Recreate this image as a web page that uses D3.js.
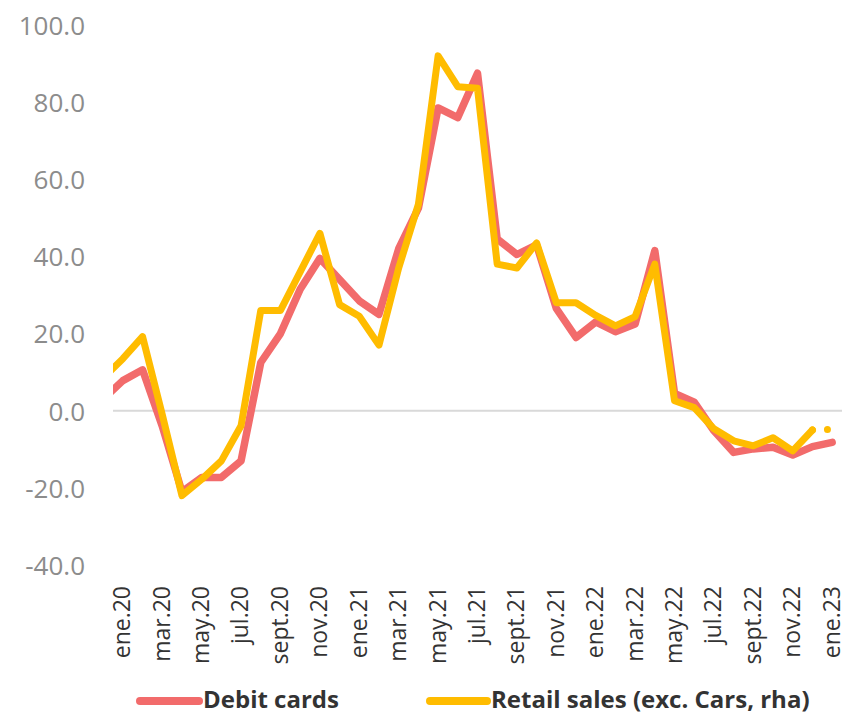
<!DOCTYPE html>
<html>
<head>
<meta charset="utf-8">
<script src="https://cdn.jsdelivr.net/npm/d3@7"></script>
<style>
  html, body { margin: 0; padding: 0; background: #fff; }
  svg { display: block; }
</style>
</head>
<body>
<svg id="chart" width="846" height="714"></svg>
<script>
// Months (first one, dic.19, lies just outside the plot and is clipped)
const months = ["dic.19","ene.20","feb.20","mar.20","abr.20","may.20","jun.20","jul.20","ago.20","sept.20","oct.20","nov.20","dic.20",
  "ene.21","feb.21","mar.21","abr.21","may.21","jun.21","jul.21","ago.21","sept.21","oct.21","nov.21","dic.21",
  "ene.22","feb.22","mar.22","abr.22","may.22","jun.22","jul.22","ago.22","sept.22","oct.22","nov.22","dic.22","ene.23"];

const debitCards = [3, 7.8, 10.6, -4, -21, -17.3, -17.3, -13, 12.5, 20, 31.5, 39.5, 34,
  28.5, 25, 42, 52.5, 78.5, 76, 87.5, 44.5, 40.5, 43, 26.5, 19,
  23, 20.5, 22.5, 41.5, 4.5, 2.2, -5.2, -10.8, -9.9, -9.5, -11.5, -9.3, -8.2];

const retailSales = [8.5, 13.5, 19.2, -1, -22, -17.8, -13, -3.9, 26, 26, 36, 46, 27.5,
  24.5, 17, 37, 53.5, 92, 84, 83.6, 38, 37, 43.5, 28, 28,
  24.7, 22, 24.4, 38, 2.6, 0.8, -4.7, -7.8, -9.1, -7, -10.4, -5, -4.8];

const yTicks = [-40, -20, 0, 20, 40, 60, 80, 100];
const xTickLabels = ["ene.20","mar.20","may.20","jul.20","sept.20","nov.20","ene.21","mar.21","may.21","jul.21","sept.21","nov.21",
  "ene.22","mar.22","may.22","jul.22","sept.22","nov.22","ene.23"];

const seriesNames = ["Debit cards", "Retail sales (exc. Cars, rha)"];
const colors = ["#F26B6B", "#FFBC00"];

const svg = d3.select("#chart");
const plot = { left: 113, right: 842, top: 25, bottom: 565 };

// index 0 = dic.19; ene.20 is index 1
const x = d3.scaleLinear().domain([0.5, months.length - 0.5]).range([plot.left, plot.right]);
const y = d3.scaleLinear().domain([-40, 100]).range([plot.bottom, plot.top]);

svg.append("defs").append("clipPath").attr("id", "clip")
  .append("rect").attr("x", plot.left).attr("y", 0)
  .attr("width", plot.right - plot.left).attr("height", 714);

// Y axis labels
const yAxis = d3.axisLeft(y).tickValues(yTicks).tickSize(0).tickPadding(0).tickFormat(d => d.toFixed(1));
const gy = svg.append("g").attr("transform", `translate(85,0)`).call(yAxis);
gy.select(".domain").remove();
gy.selectAll("text")
  .attr("fill", "#8C8C8C")
  .style("font-family", "'Open Sans', sans-serif")
  .style("font-size", "26px")
  .attr("dy", "0.36em");

// zero line
svg.append("line")
  .attr("x1", plot.left).attr("x2", plot.right)
  .attr("y1", y(0)).attr("y2", y(0))
  .attr("stroke", "#D9D9D9").attr("stroke-width", 2);

// X axis labels
const idx = m => months.indexOf(m);
const xAxis = d3.axisBottom(x).tickValues(xTickLabels.map(idx)).tickSize(0).tickPadding(0)
  .tickFormat(i => months[i]);
const gx = svg.append("g").attr("transform", `translate(0,586)`).call(xAxis);
gx.select(".domain").remove();
gx.selectAll("text")
  .attr("fill", "#333")
  .style("font-family", "'Open Sans', sans-serif")
  .style("font-size", "23px")
  .attr("text-anchor", "end")
  .attr("transform", "rotate(-90)")
  .attr("x", 0).attr("y", 0)
  .attr("dy", "0.3em");

// Lines
const line = d3.line().x((d, i) => x(i)).y(d => y(d));
const gl = svg.append("g").attr("clip-path", "url(#clip)");

gl.append("path").datum(debitCards)
  .attr("d", line).attr("fill", "none")
  .attr("stroke", colors[0]).attr("stroke-width", 7.5)
  .attr("stroke-linejoin", "round").attr("stroke-linecap", "round");

const lastN = retailSales.length - 1;
const retailLine = d3.line().x(d => x(d[0])).y(d => y(d[1]));
const retailPts = retailSales.map((v, i) => [i, v]);
gl.append("path").datum(retailPts.slice(0, lastN))
  .attr("d", retailLine).attr("fill", "none")
  .attr("stroke", colors[1]).attr("stroke-width", 7)
  .attr("stroke-linejoin", "round").attr("stroke-linecap", "round");
gl.append("path").datum(retailPts.slice(lastN - 1))
  .attr("d", retailLine).attr("fill", "none")
  .attr("stroke", colors[1]).attr("stroke-width", 7)
  .attr("stroke-linecap", "round")
  .attr("stroke-dasharray", "0,15");

// Legend
const legendY = 699;
const legendItems = [
  { x1: 140, x2: 199, tx: 203 },
  { x1: 430, x2: 487, tx: 491 }
];
legendItems.forEach((it, i) => {
  svg.append("line").attr("x1", it.x1).attr("x2", it.x2)
    .attr("y1", legendY + 2).attr("y2", legendY + 2)
    .attr("stroke", colors[i]).attr("stroke-width", 8).attr("stroke-linecap", "round");
  svg.append("text").attr("x", it.tx).attr("y", legendY).attr("dy", "0.36em")
    .attr("fill", "#333")
    .style("font-family", "'Open Sans', sans-serif")
    .style("font-weight", "bold")
    .style("font-size", "24px")
    .text(seriesNames[i]);
});
</script>
</body>
</html>
